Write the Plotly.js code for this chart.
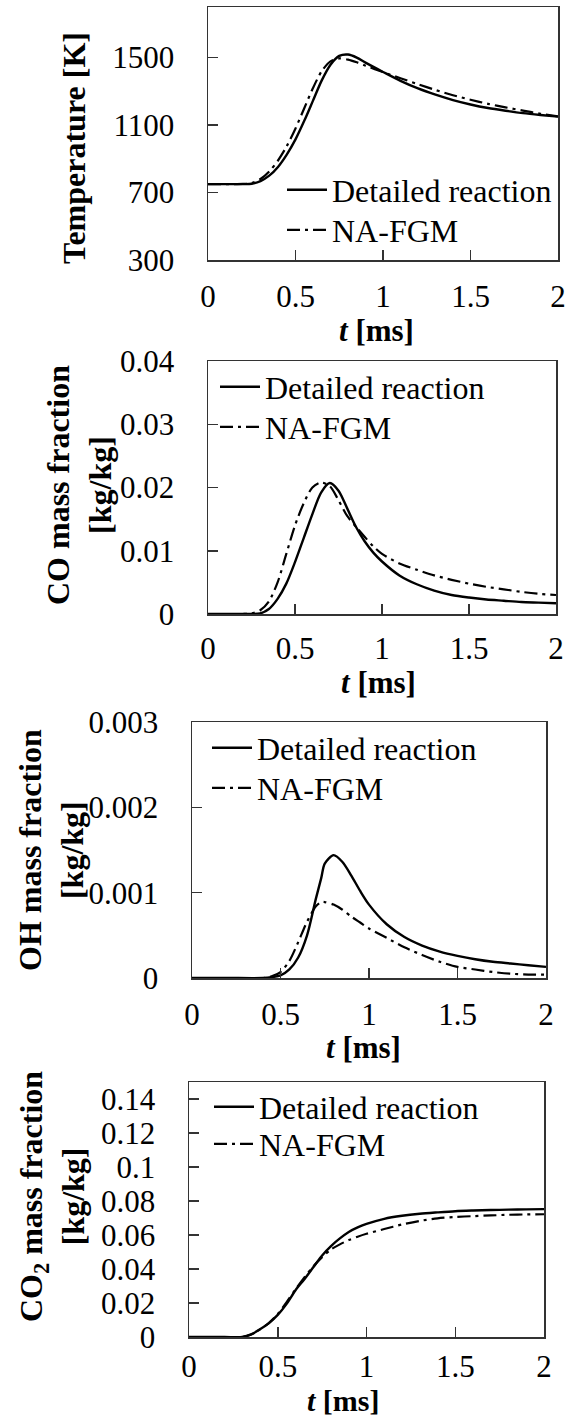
<!DOCTYPE html>
<html>
<head>
<meta charset="utf-8">
<script src="https://cdn.plot.ly/plotly-3.0.1.min.js"></script>
<style>
  html, body { margin: 0; padding: 0; background: #ffffff; }
  #chart { width: 567px; height: 1420px; }
</style>
</head>
<body>
<div id="chart"></div>
<script>
// ---------------- DATA ----------------
const seriesNames = ["Detailed reaction", "NA-FGM"];
const xTickVals = [0, 0.5, 1, 1.5, 2];
const xTickText = ["0", "0.5", "1", "1.5", "2"];

// Panel 1: temperature [K]
const tTemp = [0, 0.1, 0.2, 0.25, 0.3, 0.35, 0.4, 0.45, 0.5, 0.55, 0.6, 0.65, 0.7, 0.75, 0.8, 0.85, 0.9, 1.0, 1.1, 1.2, 1.3, 1.4, 1.5, 1.6, 1.7, 1.8, 1.9, 2.0];
const tempDetailed = [750, 750, 750, 752, 768, 800, 852, 925, 1015, 1125, 1245, 1365, 1458, 1510, 1518, 1500, 1470, 1415, 1362, 1317, 1280, 1248, 1222, 1201, 1185, 1171, 1160, 1150];
const tempFGM = [750, 750, 751, 756, 780, 825, 890, 975, 1080, 1200, 1320, 1420, 1478, 1495, 1488, 1472, 1452, 1414, 1378, 1342, 1308, 1277, 1250, 1226, 1205, 1186, 1167, 1152];
const tempTicks = [300, 700, 1100, 1500];
const tempTickText = ["300", "700", "1100", "1500"];

// Panel 2: CO mass fraction
const tCO = [0, 0.2, 0.25, 0.3, 0.35, 0.4, 0.45, 0.5, 0.55, 0.6, 0.65, 0.7, 0.75, 0.8, 0.85, 0.9, 0.95, 1.0, 1.1, 1.2, 1.3, 1.4, 1.5, 1.6, 1.7, 1.8, 1.9, 2.0];
const coDetailed = [0, 0, 0, 0.0001, 0.0008, 0.0024, 0.0048, 0.0082, 0.0120, 0.0158, 0.0192, 0.0207, 0.0195, 0.0167, 0.0138, 0.0115, 0.0097, 0.0083, 0.0061, 0.0047, 0.0037, 0.0030, 0.0026, 0.0023, 0.0021, 0.0019, 0.0018, 0.0017];
const coFGM = [0, 0, 0.0001, 0.0006, 0.0020, 0.0050, 0.0095, 0.0140, 0.0175, 0.0200, 0.0208, 0.0202, 0.0180, 0.0155, 0.0138, 0.0122, 0.0107, 0.0095, 0.0080, 0.0070, 0.0061, 0.0054, 0.0048, 0.0043, 0.0039, 0.0035, 0.0032, 0.0030];
const coTicks = [0, 0.01, 0.02, 0.03, 0.04];
const coTickText = ["0", "0.01", "0.02", "0.03", "0.04"];

// Panel 3: OH mass fraction
const tOH = [0, 0.2, 0.4, 0.45, 0.5, 0.55, 0.6, 0.65, 0.7, 0.73, 0.75, 0.8, 0.85, 0.9, 0.95, 1.0, 1.1, 1.2, 1.3, 1.4, 1.5, 1.6, 1.7, 1.8, 1.9, 2.0];
const ohDetailed = [0, 0, 0, 0.00001, 0.00003, 0.0001, 0.00024, 0.0005, 0.00093, 0.00117, 0.00134, 0.00144, 0.00136, 0.0012, 0.00102, 0.00086, 0.00063, 0.00048, 0.00038, 0.00031, 0.00026, 0.00022, 0.00019, 0.00017, 0.00015, 0.00013];
const ohFGM = [0, 0, 0, 0.00002, 0.00007, 0.0002, 0.00042, 0.00066, 0.00084, 0.00089, 0.00089, 0.00086, 0.0008, 0.00072, 0.00065, 0.00058, 0.00047, 0.00036, 0.00027, 0.00019, 0.00013, 0.0001, 0.00007, 0.00005, 0.00004, 0.00004];
const ohTicks = [0, 0.001, 0.002, 0.003];
const ohTickText = ["0", "0.001", "0.002", "0.003"];

// Panel 4: CO2 mass fraction
const tCO2 = [0, 0.2, 0.3, 0.35, 0.4, 0.45, 0.5, 0.55, 0.6, 0.65, 0.7, 0.75, 0.8, 0.85, 0.9, 0.95, 1.0, 1.1, 1.2, 1.3, 1.4, 1.5, 1.6, 1.7, 1.8, 1.9, 2.0];
const co2Detailed = [0, 0, 0, 0.0015, 0.0045, 0.0082, 0.013, 0.0195, 0.0275, 0.034, 0.041, 0.048, 0.0535, 0.058, 0.0618, 0.0645, 0.0665, 0.0695, 0.0713, 0.0725, 0.0733, 0.074, 0.0744, 0.0747, 0.0749, 0.0751, 0.0752];
const co2FGM = [0, 0, 0, 0.0015, 0.0045, 0.0082, 0.0135, 0.0205, 0.028, 0.035, 0.0415, 0.047, 0.0515, 0.0545, 0.057, 0.059, 0.0607, 0.0635, 0.0662, 0.0683, 0.0698, 0.0706, 0.0711, 0.0715, 0.0719, 0.0721, 0.0722];
const co2Ticks = [0, 0.02, 0.04, 0.06, 0.08, 0.1, 0.12, 0.14];
const co2TickText = ["0", "0.02", "0.04", "0.06", "0.08", "0.1", "0.12", "0.14"];

const yTitles = ["Temperature [K]", "CO mass fraction<br>[kg/kg]", "OH mass fraction<br>[kg/kg]", "CO<sub>2</sub> mass fraction<br>[kg/kg]"];
const xTitle = "<i>t</i> [ms]";

// ---------------- LAYOUT HELPERS ----------------
const W = 567, H = 1420;
const px = v => v / W;
const py = v => 1 - v / H;
const SERIF = "Liberation Serif";
const AX = "#333333";

// plot-box pixel geometry per panel: [left, right, top, bottom]
const boxes = [
  [208, 558, 7, 260],
  [208, 556, 361, 614],
  [192, 546, 722, 978],
  [189, 544, 1082, 1337]
];
const yRanges = [[300, 1800], [0, 0.04], [0, 0.003], [0, 0.15]];
const yTickSets = [[tempTicks, tempTickText], [coTicks, coTickText], [ohTicks, ohTickText], [co2Ticks, co2TickText]];
const panelData = [
  [tTemp, tempDetailed, tempFGM],
  [tCO, coDetailed, coFGM],
  [tOH, ohDetailed, ohFGM],
  [tCO2, co2Detailed, co2FGM]
];
// legend line start x (px), row centres y (px)
const legendPos = [[290, 190, 230], [223, 387, 427], [215, 748, 788], [217, 1107, 1144]];
const yTitlePos = [[74, 148], [79, 485], [51, 850], [52, 1197]];
// x-title centre x, y, anchor
const xTitlePos = [[376, 330, "middle"], [378, 682, "middle"], [363, 1047, "middle"], [343, 1419, "bottom"]];
const xTitleSize = [31, 31, 31, 30];
const xLabelStandoff = [8, 6, 8, 1];

const traces = [];
const layout = {
  width: W, height: H,
  margin: {l: 0, r: 0, t: 0, b: 0},
  paper_bgcolor: "#ffffff",
  plot_bgcolor: "#ffffff",
  showlegend: true,
  font: {family: SERIF, color: "#000000", size: 31},
  annotations: []
};

let legIdx = 0;
function nextLegend() {
  legIdx += 1;
  return legIdx === 1 ? "legend" : "legend" + legIdx;
}

panelData.forEach((pd, i) => {
  const n = i === 0 ? "" : String(i + 1);
  const [t, a, b] = pd;
  const [lx, ly1, ly2] = legendPos[i];
  const legA = nextLegend();
  const legB = nextLegend();
  traces.push({
    x: t, y: a, name: seriesNames[0], type: "scatter", mode: "lines",
    xaxis: "x" + n, yaxis: "y" + n, legend: legA, showlegend: true,
    line: {color: "#000000", width: 2.4, shape: "spline", smoothing: 0.8}
  });
  traces.push({
    x: t, y: b, name: seriesNames[1], type: "scatter", mode: "lines",
    xaxis: "x" + n, yaxis: "y" + n, legend: legB, showlegend: true,
    line: {color: "#000000", width: 2.2, dash: "13px,5px,3px,5px", shape: "spline", smoothing: 0.8}
  });
  [[legA, ly1], [legB, ly2]].forEach(([lg, ly]) => {
    layout[lg] = {
      x: px(lx - 8), y: py(ly), xanchor: "left", yanchor: "middle",
      bgcolor: "rgba(0,0,0,0)", borderwidth: 0,
      font: {family: SERIF, size: 32, color: "#000"},
      itemwidth: 40, visible: true
    };
  });
  const [l, r, tp, bt] = boxes[i];
  layout["xaxis" + n] = {
    domain: [px(l), px(r)], anchor: "y" + n,
    range: [0, 2], tickvals: xTickVals, ticktext: xTickText,
    ticks: "inside", ticklen: 10, tickwidth: 1.5, tickcolor: AX,
    showline: true, linecolor: AX, linewidth: 1.5, mirror: true,
    showgrid: false, zeroline: false, fixedrange: true,
    tickfont: {family: SERIF, size: 31, color: "#000"},
    ticklabelstandoff: xLabelStandoff[i]
  };
  layout["yaxis" + n] = {
    domain: [py(bt), py(tp)], anchor: "x" + n,
    range: yRanges[i], tickvals: yTickSets[i][0], ticktext: yTickSets[i][1],
    ticks: "inside", ticklen: 10, tickwidth: 1.5, tickcolor: AX,
    showline: true, linecolor: AX, linewidth: 1.5, mirror: true,
    showgrid: false, zeroline: false, fixedrange: true,
    tickfont: {family: SERIF, size: 31, color: "#000"},
    ticklabelstandoff: 26
  };
  layout.annotations.push({
    xref: "paper", yref: "paper",
    x: px(yTitlePos[i][0]), y: py(yTitlePos[i][1]),
    xanchor: "center", yanchor: "middle",
    text: "<b>" + yTitles[i] + "</b>", textangle: -90, showarrow: false,
    font: {family: SERIF, size: 32, color: "#000"}
  });
  layout.annotations.push({
    xref: "paper", yref: "paper",
    x: px(xTitlePos[i][0]), y: py(xTitlePos[i][1]),
    xanchor: "center", yanchor: xTitlePos[i][2],
    text: "<b>" + xTitle + "</b>", showarrow: false,
    font: {family: SERIF, size: xTitleSize[i], color: "#000"}
  });
});

Plotly.newPlot("chart", traces, layout, {staticPlot: true, displayModeBar: false});
</script>
</body>
</html>
